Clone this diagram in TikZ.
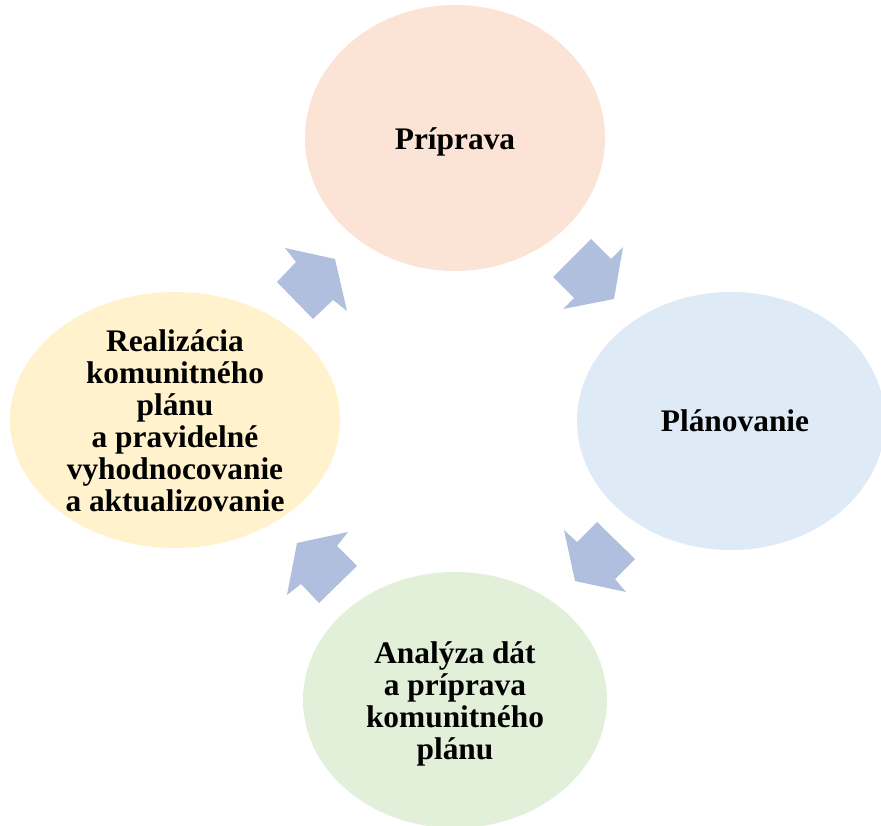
\documentclass[tikz,border=0pt]{standalone}
\usepackage{fontspec}
\setmainfont{Liberation Serif}
\usetikzlibrary{shapes.geometric}
\definecolor{cPeach}{HTML}{FBE4D5}
\definecolor{cBlue}{HTML}{DEEAF6}
\definecolor{cGreen}{HTML}{E2EFD9}
\definecolor{cYellow}{HTML}{FFF2CC}
\definecolor{cArrow}{HTML}{B0BFDD}
\tikzset{
  phase/.style={ellipse, draw=none, inner sep=0pt},
  phasetext/.style={inner sep=0pt, align=center,
    font=\fontsize{31.4}{32}\selectfont\bfseries},
  blockarrow/.style={fill=cArrow, draw=none}
}
\begin{document}
\begin{tikzpicture}[x=1pt,y=-1pt]
\useasboundingbox (0,0) rectangle (881,826);
\clip (0,0) rectangle (881,826);
\node[phase, fill=cPeach, minimum width=300pt, minimum height=266pt] (prip) at (455,138) {};
\node[phase, fill=cBlue, minimum width=308pt, minimum height=258pt] (plan) at (731,421) {};
\node[phase, fill=cGreen, minimum width=304pt, minimum height=256pt] (anal) at (455,700) {};
\node[phase, fill=cYellow, minimum width=330pt, minimum height=256pt] (real) at (175,420) {};
\node[phasetext] (priptext) at (455,142) {Príprava};
\node[phasetext] (plantext) at (735,421) {Plánovanie};
\node[phasetext] (analtext) at (455,704) {Analýza dát\\a príprava\\komunitného\\plánu};
\node[phasetext] (realtext) at (175,421) {Realizácia\\komunitného\\plánu\\a pravidelné\\vyhodnocovanie\\a aktualizovanie};
% arrow top-right (Príprava -> Plánovanie)
\fill[blockarrow] (591,239) -- (611,259) -- (623,247) -- (614,299) -- (563,309) -- (574,298) -- (553,277) -- cycle;
% arrow bottom-right (Plánovanie -> Analýza)
\fill[blockarrow] (564,530) -- (577,542) -- (597,522) -- (635,559) -- (615,579) -- (626,592) -- (575,581) -- cycle;
% arrow bottom-left (Analýza -> Realizácia)
\fill[blockarrow] (348,532) -- (337,546) -- (357,566) -- (319,603) -- (301,584) -- (287,595) -- (297,543) -- cycle;
% arrow top-left (Realizácia -> Príprava)
\fill[blockarrow] (285,248) -- (335,259) -- (347,311) -- (333,300) -- (313,319) -- (277,282) -- (296,262) -- cycle;
\end{tikzpicture}
\end{document}
